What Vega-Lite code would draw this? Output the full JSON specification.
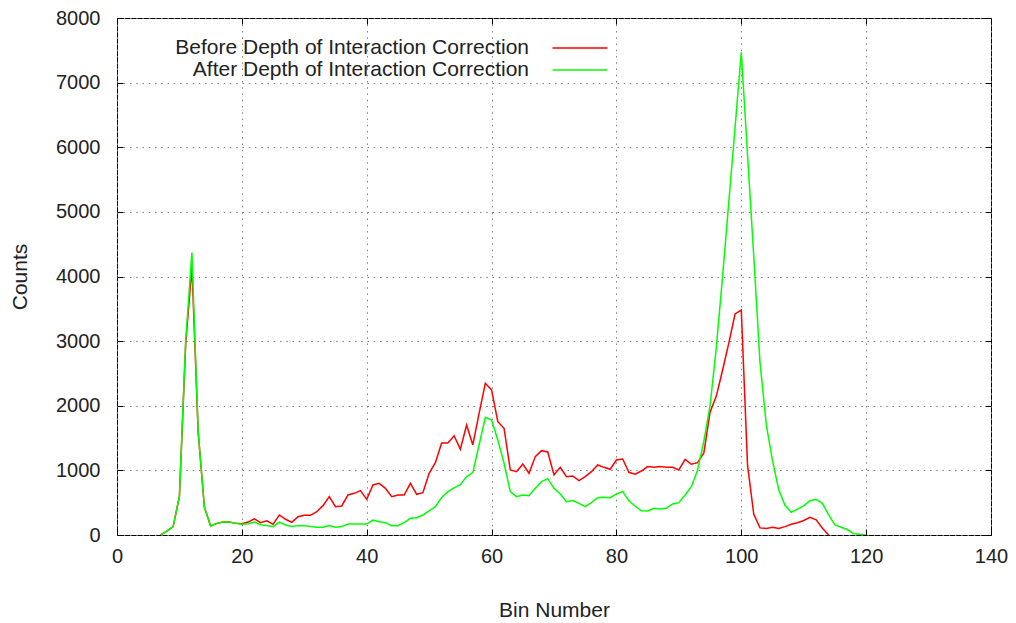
{
  "$schema": "https://vega.github.io/schema/vega-lite/v6.json",
  "width": 874,
  "height": 517,
  "autosize": "none",
  "padding": {"left": 117, "top": 18, "right": 25, "bottom": 88},
  "background": "white",
  "config": {
    "view": {"stroke": "black", "strokeWidth": 1},
    "font": "Liberation Sans",
    "axis": {
      "domain": false,
      "tickColor": "black",
      "tickSize": -6,
      "tickWidth": 1,
      "labelFont": "Liberation Sans",
      "labelFontSize": 20,
      "labelColor": "#222",
      "titleFont": "Liberation Sans",
      "titleFontSize": 21,
      "titleFontWeight": "normal",
      "titleColor": "#222",
      "gridColor": "#808080",
      "gridDash": [1.5, 4.75],
      "gridWidth": 1
    }
  },
  "data": {
    "values": [
      {"bin": 7, "before": 0, "after": 0},
      {"bin": 8, "before": 60, "after": 60},
      {"bin": 9, "before": 130, "after": 130},
      {"bin": 10, "before": 600, "after": 600},
      {"bin": 11, "before": 2950, "after": 3000},
      {"bin": 12, "before": 4150, "after": 4370},
      {"bin": 13, "before": 1600, "after": 1600},
      {"bin": 14, "before": 430, "after": 430},
      {"bin": 15, "before": 140, "after": 140},
      {"bin": 16, "before": 180, "after": 180},
      {"bin": 17, "before": 200, "after": 200},
      {"bin": 18, "before": 200, "after": 200},
      {"bin": 19, "before": 180, "after": 180},
      {"bin": 20, "before": 175, "after": 165},
      {"bin": 21, "before": 200, "after": 175},
      {"bin": 22, "before": 250, "after": 200},
      {"bin": 23, "before": 190, "after": 160},
      {"bin": 24, "before": 220, "after": 145},
      {"bin": 25, "before": 165, "after": 130},
      {"bin": 26, "before": 310, "after": 200},
      {"bin": 27, "before": 243, "after": 155},
      {"bin": 28, "before": 196, "after": 130},
      {"bin": 29, "before": 284, "after": 145},
      {"bin": 30, "before": 305, "after": 145},
      {"bin": 31, "before": 305, "after": 130},
      {"bin": 32, "before": 361, "after": 120},
      {"bin": 33, "before": 454, "after": 120},
      {"bin": 34, "before": 593, "after": 145},
      {"bin": 35, "before": 439, "after": 120},
      {"bin": 36, "before": 449, "after": 130},
      {"bin": 37, "before": 619, "after": 170},
      {"bin": 38, "before": 645, "after": 170},
      {"bin": 39, "before": 686, "after": 170},
      {"bin": 40, "before": 552, "after": 170},
      {"bin": 41, "before": 774, "after": 232},
      {"bin": 42, "before": 800, "after": 206},
      {"bin": 43, "before": 722, "after": 191},
      {"bin": 44, "before": 593, "after": 144},
      {"bin": 45, "before": 619, "after": 144},
      {"bin": 46, "before": 619, "after": 191},
      {"bin": 47, "before": 800, "after": 258},
      {"bin": 48, "before": 630, "after": 268},
      {"bin": 49, "before": 655, "after": 310},
      {"bin": 50, "before": 955, "after": 372},
      {"bin": 51, "before": 1120, "after": 439},
      {"bin": 52, "before": 1425, "after": 580},
      {"bin": 53, "before": 1425, "after": 670},
      {"bin": 54, "before": 1535, "after": 730},
      {"bin": 55, "before": 1326, "after": 780},
      {"bin": 56, "before": 1703, "after": 903},
      {"bin": 57, "before": 1393, "after": 965},
      {"bin": 58, "before": 1883, "after": 1393},
      {"bin": 59, "before": 2348, "after": 1822},
      {"bin": 60, "before": 2245, "after": 1780},
      {"bin": 61, "before": 1754, "after": 1471},
      {"bin": 62, "before": 1651, "after": 1110},
      {"bin": 63, "before": 1006, "after": 671},
      {"bin": 64, "before": 980, "after": 593},
      {"bin": 65, "before": 1099, "after": 619},
      {"bin": 66, "before": 955, "after": 609},
      {"bin": 67, "before": 1213, "after": 722},
      {"bin": 68, "before": 1305, "after": 826},
      {"bin": 69, "before": 1285, "after": 872},
      {"bin": 70, "before": 929, "after": 722},
      {"bin": 71, "before": 1047, "after": 635},
      {"bin": 72, "before": 903, "after": 516},
      {"bin": 73, "before": 913, "after": 532},
      {"bin": 74, "before": 841, "after": 490},
      {"bin": 75, "before": 903, "after": 439},
      {"bin": 76, "before": 980, "after": 500},
      {"bin": 77, "before": 1084, "after": 578},
      {"bin": 78, "before": 1047, "after": 583},
      {"bin": 79, "before": 1017, "after": 578},
      {"bin": 80, "before": 1161, "after": 635},
      {"bin": 81, "before": 1176, "after": 671},
      {"bin": 82, "before": 970, "after": 530},
      {"bin": 83, "before": 940, "after": 445},
      {"bin": 84, "before": 990, "after": 375},
      {"bin": 85, "before": 1058, "after": 372},
      {"bin": 86, "before": 1047, "after": 413},
      {"bin": 87, "before": 1058, "after": 402},
      {"bin": 88, "before": 1047, "after": 413},
      {"bin": 89, "before": 1047, "after": 480},
      {"bin": 90, "before": 1006, "after": 500},
      {"bin": 91, "before": 1171, "after": 619},
      {"bin": 92, "before": 1094, "after": 748},
      {"bin": 93, "before": 1120, "after": 1000},
      {"bin": 94, "before": 1270, "after": 1450},
      {"bin": 95, "before": 1900, "after": 2000},
      {"bin": 96, "before": 2150, "after": 2900},
      {"bin": 97, "before": 2550, "after": 4000},
      {"bin": 98, "before": 2970, "after": 5150},
      {"bin": 99, "before": 3420, "after": 6300},
      {"bin": 100, "before": 3480, "after": 7470},
      {"bin": 101, "before": 1080, "after": 5890},
      {"bin": 102, "before": 320, "after": 4310},
      {"bin": 103, "before": 110, "after": 2672},
      {"bin": 104, "before": 100, "after": 1712},
      {"bin": 105, "before": 120, "after": 1150},
      {"bin": 106, "before": 100, "after": 700},
      {"bin": 107, "before": 130, "after": 460},
      {"bin": 108, "before": 165, "after": 350},
      {"bin": 109, "before": 190, "after": 400},
      {"bin": 110, "before": 225, "after": 450},
      {"bin": 111, "before": 275, "after": 530},
      {"bin": 112, "before": 235, "after": 550},
      {"bin": 113, "before": 105, "after": 490},
      {"bin": 114, "before": 0, "after": 310},
      {"bin": 115, "after": 155},
      {"bin": 116, "after": 120},
      {"bin": 117, "after": 85},
      {"bin": 118, "after": 20},
      {"bin": 119, "after": 10},
      {"bin": 120, "after": 0}
    ]
  },
  "transform": [
    {"fold": ["before", "after"], "as": ["series", "counts"]},
    {"filter": "isValid(datum.counts)"}
  ],
  "layer": [
    {
      "mark": {"type": "line", "strokeWidth": 1.5, "clip": true},
      "encoding": {
        "x": {
          "field": "bin", "type": "quantitative",
          "scale": {"domain": [0, 140], "nice": false, "zero": false},
          "axis": {"orient": "bottom", "values": [0, 20, 40, 60, 80, 100, 120, 140], "grid": true, "labelPadding": 17, "title": "Bin Number", "titlePadding": 33, "labelFlush": false}
        },
        "y": {
          "field": "counts", "type": "quantitative",
          "scale": {"domain": [0, 8000], "nice": false},
          "axis": {"orient": "left", "values": [0, 1000, 2000, 3000, 4000, 5000, 6000, 7000, 8000], "format": "d", "grid": true, "labelPadding": 23, "title": "Counts", "titlePadding": 25, "labelFlush": false}
        },
        "color": {
          "field": "series", "type": "nominal",
          "scale": {"domain": ["before", "after"], "range": ["#ff0000", "#00ff00"]},
          "legend": {
            "orient": "none",
            "legendX": 451,
            "legendY": 18,
            "title": null,
            "symbolType": "M-2.5,0H2.5",
            "symbolSize": 484,
            "symbolStrokeWidth": 1.5,
            "symbolFillColor": "transparent",
            "labelAlign": "right",
            "labelOffset": -63,
            "labelLimit": 500,
            "labelFont": "Liberation Sans",
            "labelFontSize": 21,
            "labelColor": "#222",
            "rowPadding": 0,
            "labelExpr": "datum.label == 'before' ? 'Before Depth of Interaction Correction' : 'After Depth of Interaction Correction'"
          }
        }
      }
    },
    {
      "mark": {"type": "point", "opacity": 0},
      "encoding": {
        "x": {
          "field": "bin", "type": "quantitative",
          "axis": {"orient": "top", "values": [0, 20, 40, 60, 80, 100, 120, 140], "grid": false, "labels": false, "title": null}
        },
        "y": {
          "field": "counts", "type": "quantitative",
          "axis": {"orient": "right", "values": [0, 1000, 2000, 3000, 4000, 5000, 6000, 7000, 8000], "grid": false, "labels": false, "title": null}
        }
      }
    }
  ],
  "resolve": {"axis": {"x": "independent", "y": "independent"}}
}
